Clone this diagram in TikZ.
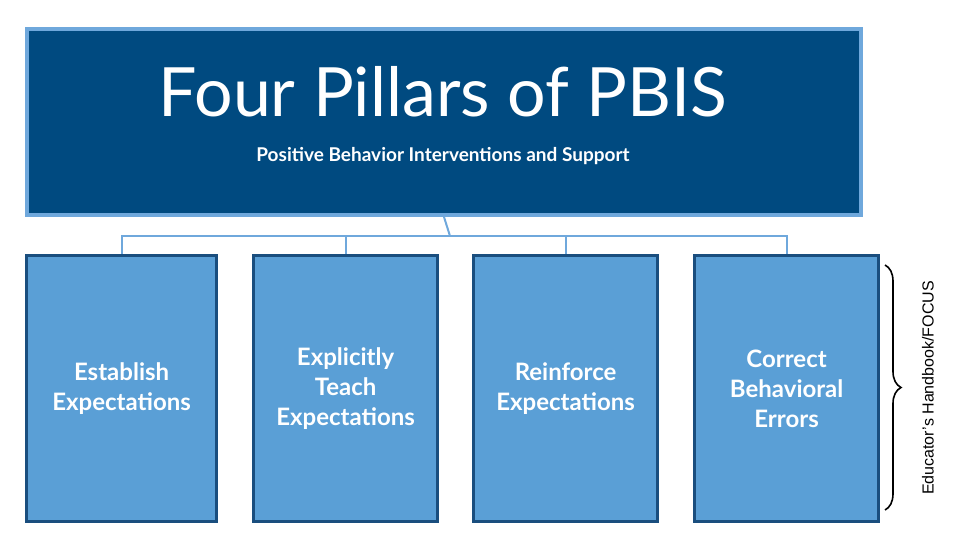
\documentclass[tikz,border=0pt]{standalone}
\usepackage{fontspec}
\setmainfont{Lato}
\newfontfamily\notefont{Liberation Sans}
\usetikzlibrary{decorations.pathreplacing}
\definecolor{pbisdark}{HTML}{004A80}
\definecolor{pbislight}{HTML}{5A9FD6}
\definecolor{pbisedge}{HTML}{1A4E7E}
\definecolor{pbisline}{HTML}{6FA8DC}
\begin{document}
\begin{tikzpicture}[
    x=0.5pt, y=-0.5pt,
    header/.style={rectangle, draw=pbisline, line width=2pt, fill=pbisdark, minimum width=417pt, minimum height=93pt, anchor=north west},
    pillar/.style={rectangle, draw=pbisedge, line width=1.6pt, fill=pbislight, minimum height=133pt, anchor=north west, text=white, font=\bfseries\fontsize{12}{15}\selectfont, align=center},
    link/.style={draw=pbisline, line width=1pt}
]
    \useasboundingbox (0,0) rectangle (960,540);
    % Header
    \node[header] (head) at (25,27) {};
    \node[text=white, font=\fontsize{34}{36}\selectfont\scshape] (title) at (443,92) {Four Pillars of PBIS};
    \node[text=white, font=\bfseries\fontsize{9.5}{11}\selectfont] (subtitle) at (443,156) {Positive Behavior Interventions and Support};
    
    % Pillars
    \node[pillar, minimum width=95pt] (establish) at (25,254) {Establish\\Expectations};
    \node[pillar, minimum width=92pt] (teach) at (252,254) {Explicitly\\Teach\\Expectations};
    \node[pillar, minimum width=92pt] (reinforce) at (472,254) {Reinforce\\Expectations};
    \node[pillar, minimum width=92pt] (correct) at (693,254) {Correct\\Behavioral\\Errors};
    
    % Connectors
    \coordinate (hub) at (450,236);
    \draw[link] (head.south) -- (hub);
    \draw[link] (establish.north) |- (hub);
    \draw[link] (correct.north) |- (hub);
    \draw[link] (teach.north) -- ++(0,-18);
    \draw[link] (reinforce.north) -- ++(0,-18);
    
    % Source note
    \coordinate (bracetop) at (885,265);
    \coordinate (bracebot) at (885,510);
    \draw[line width=0.8pt, decorate, decoration={brace, amplitude=8pt}] (bracetop) -- (bracebot);
    \node[rotate=90, font=\notefont\fontsize{8}{9}\selectfont] (source) at (928,388) {Educator’s Handbook/FOCUS};
\end{tikzpicture}
\end{document}
